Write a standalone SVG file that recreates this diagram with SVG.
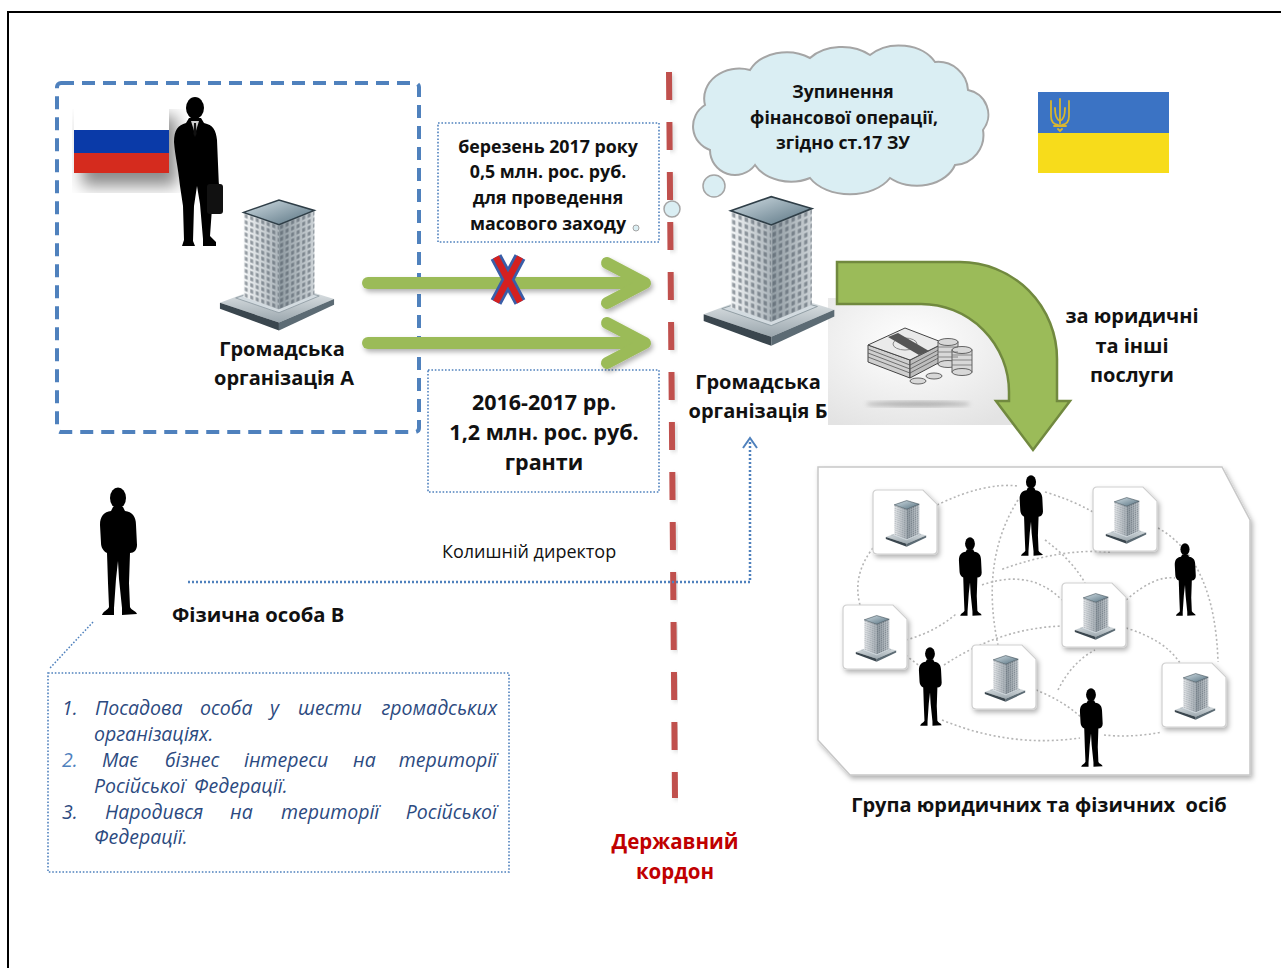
<svg xmlns="http://www.w3.org/2000/svg" xmlns:xlink="http://www.w3.org/1999/xlink" width="1281" height="968" viewBox="0 0 1281 968">
<style>
.b{font-family:"Open Sans","Noto Sans","DejaVu Sans",sans-serif;font-weight:bold;fill:#111;text-anchor:middle}
.r{font-family:"Open Sans","Noto Sans","DejaVu Sans",sans-serif;fill:#111}
.it{font-family:"Open Sans","Noto Sans","DejaVu Sans",sans-serif;font-style:italic;font-size:19.5px;fill:#2c4a80}
.dotbox{fill:#fff;stroke:#4f81bd;stroke-width:1.6;stroke-dasharray:1.6 1.8}
.garrow{stroke:#9bbb59;stroke-width:12;fill:none;stroke-linecap:round;stroke-linejoin:round}
.net{fill:none;stroke:#b5b5b5;stroke-width:1.6;stroke-dasharray:2 2.5}
.tile{fill:#fff;stroke:#cfcfcf;stroke-width:1.2}
</style>
<defs>
<filter id="sh" x="-20%" y="-20%" width="150%" height="150%"><feDropShadow dx="2" dy="3" stdDeviation="2.5" flood-color="#000" flood-opacity="0.3"/></filter>
<filter id="blur8"><feGaussianBlur stdDeviation="8"/></filter>
<filter id="blur2"><feGaussianBlur stdDeviation="2"/></filter>
<linearGradient id="gFaceL" x1="0" y1="0" x2="1" y2="0"><stop offset="0" stop-color="#f5f7f8"/><stop offset="1" stop-color="#aab3b9"/></linearGradient>
<linearGradient id="gFaceR" x1="0" y1="0" x2="1" y2="0"><stop offset="0" stop-color="#8f9aa1"/><stop offset="1" stop-color="#cdd3d7"/></linearGradient>
<linearGradient id="gRoof" x1="0" y1="0" x2="1" y2="1"><stop offset="0" stop-color="#d2dee4"/><stop offset="1" stop-color="#55707f"/></linearGradient>
<linearGradient id="gBase" x1="0" y1="0" x2="0" y2="1"><stop offset="0" stop-color="#f2f5f6"/><stop offset="1" stop-color="#9aa6ad"/></linearGradient>
<radialGradient id="gBg" cx="0.45" cy="0.35" r="0.75"><stop offset="0" stop-color="#ffffff"/><stop offset="1" stop-color="#e3e3e3"/></radialGradient>
<pattern id="win" width="5.6" height="6.2" patternUnits="userSpaceOnUse"><rect x="1.2" y="1.2" width="3" height="3.8" fill="#4b5660" opacity="0.55"/></pattern>
<symbol id="bld" viewBox="0 0 120 135" overflow="visible">
  <polygon points="2,106 60,84 118,102 62,126" fill="url(#gBase)"/>
  <polygon points="2,106 62,126 62,134 2,112" fill="#3a464e"/>
  <polygon points="62,126 118,102 118,108 62,134" fill="#5c6b74"/>
  <polygon points="18,101 60,87 103,99 62,116" fill="#d3dbe0" stroke="#8a979e" stroke-width="0.8"/>
  <g transform="translate(26,14) skewY(19.44)">
    <rect width="36" height="86" fill="url(#gFaceL)"/>
    <rect width="36" height="86" fill="url(#win)"/>
  </g>
  <g transform="translate(62,26.6) skewY(-22.38)">
    <rect width="36" height="86" fill="url(#gFaceR)"/>
    <rect width="36" height="86" fill="url(#win)"/>
  </g>
  <polygon points="26,14 62,1.5 98,12 62,26.6" fill="url(#gRoof)" stroke="#2f3e47" stroke-width="1.5"/>
</symbol>
<symbol id="man" viewBox="-20 0 40 130">
  <ellipse cx="0" cy="11" rx="8" ry="10.5" fill="#000"/>
  <path fill="#000" d="M-5,20 L5,20 L7,24 C14,25 18,29 18,38 L19,58 C19,63 16,66 12,66 L11,96 L12,120 C13,123 18,124 19,127 L4,128 L4,121 L1,92 L0,74 L-2,92 L-4,121 L-4,128 L-16,128 C-15,124 -10,123 -9,120 L-10,96 L-11,66 C-15,64 -17,60 -17,56 L-18,38 C-18,29 -14,25 -7,24 Z"/>
</symbol>
<symbol id="tileS" viewBox="0 0 64 64" overflow="visible">
  <path class="tile" d="M4,0 H50 L64,14 V60 Q64,64 60,64 H4 Q0,64 0,60 V4 Q0,0 4,0 Z" filter="url(#sh)"/>
  <use href="#bld" x="12" y="10" width="42" height="47"/>
</symbol>
</defs>

<rect x="0" y="0" width="1281" height="968" fill="#fff"/>
<rect x="8" y="12" width="1290" height="980" fill="none" stroke="#000" stroke-width="2"/>

<!-- Russia side -->
<g id="org-a">
  <rect x="57" y="83" width="362" height="349" rx="4" fill="none" stroke="#4f81bd" stroke-width="4" stroke-dasharray="13 8"/>
  <rect x="82" y="116" width="95" height="70" fill="#000" opacity="0.45" filter="url(#blur8)"/>
  <rect x="74" y="103" width="95" height="27" fill="#fff"/>
  <rect x="74" y="130" width="95" height="23" fill="#0a3aa8"/>
  <rect x="74" y="153" width="95" height="20" fill="#d52b1e"/>
  <g id="businessman" transform="translate(168,96)">
    <ellipse cx="27" cy="12" rx="9" ry="11" fill="#000"/>
    <path fill="#000" d="M21,22 L33,22 L36,27 C45,29 48,34 49,44 L51,92 C52,100 50,108 48,112 L46,100 L44,112 L42,140 L48,146 L48,150 L35,150 L35,143 L32,108 L29,90 L26,110 L25,145 L27,150 L14,150 L16,144 L15,110 L12,90 C10,70 7,60 6,46 C6,34 10,29 18,27 Z"/>
    <polygon points="23,25 31,25 27,38" fill="#cfcfcf"/>
    <polygon points="26,27 28,27 28.5,38 27,41 25.5,38" fill="#111"/>
    <path d="M42,88 Q46,82 50,88" fill="none" stroke="#000" stroke-width="2"/>
    <rect x="39" y="88" width="16" height="30" rx="3" fill="#111"/>
  </g>
  <use href="#bld" x="218" y="198" width="118" height="134"/>
  <text class="b" x="282" y="356" font-size="20">Громадська</text>
  <text class="b" x="284" y="385" font-size="20">організація А</text>
</g>

<!-- transfer boxes -->
<g id="box-2017">
  <rect class="dotbox" x="438" y="123" width="221" height="119"/>
  <text class="b" x="548" y="153" font-size="17.8">березень 2017 року</text>
  <text class="b" x="548" y="178" font-size="17.8">0,5 млн. рос. руб.</text>
  <text class="b" x="548" y="204" font-size="17.8">для проведення</text>
  <text class="b" x="548" y="230" font-size="17.8">масового заходу</text>
  <circle cx="636" cy="228" r="3" fill="#daeef3" stroke="#a5a5a5" stroke-width="1"/>
</g>
<g id="box-grants">
  <rect class="dotbox" x="428" y="370" width="231" height="122"/>
  <text class="b" x="544" y="410" font-size="21.5">2016-2017 рр.</text>
  <text class="b" x="544" y="440" font-size="21.5">1,2 млн. рос. руб.</text>
  <text class="b" x="544" y="470" font-size="21.5">гранти</text>
</g>

<!-- border line -->
<g id="border">
  <line x1="671" y1="74" x2="677" y2="800" stroke="#999" stroke-width="6" stroke-dasharray="28 22" opacity="0.35" filter="url(#blur2)"/>
  <line x1="669" y1="72" x2="675" y2="798" stroke="#c0504d" stroke-width="6" stroke-dasharray="28 22"/>
  <text x="675" y="849" font-size="20.5" class="b" style="fill:#c00000">Державний</text>
  <text x="675" y="879" font-size="20.5" class="b" style="fill:#c00000">кордон</text>
</g>

<!-- cloud -->
<g id="cloud">
  <path d="M710,150 A25,25 0 0 1 705,105 A35,30 0 0 1 750,70 A40,30 0 0 1 810,58 A40,28 0 0 1 870,55 A40,30 0 0 1 935,62 A30,30 0 0 1 968,90 A25,25 0 0 1 983,130 A30,30 0 0 1 955,165 A40,30 0 0 1 890,178 A45,30 0 0 1 810,178 A40,30 0 0 1 755,165 A25,25 0 0 1 710,150 Z" fill="#daeef3" stroke="#a5a5a5" stroke-width="2"/>
  <circle cx="714" cy="186" r="11" fill="#daeef3" stroke="#a5a5a5" stroke-width="1.5"/>
  <circle cx="672" cy="209" r="8" fill="#daeef3" stroke="#a5a5a5" stroke-width="1.5"/>
  <text class="b" x="843" y="98" font-size="17.6">Зупинення</text>
  <text class="b" x="844" y="124" font-size="17.6">фінансової операції,</text>
  <text class="b" x="843" y="149" font-size="17.6">згідно ст.17 ЗУ</text>
</g>

<!-- Ukraine flag -->
<g id="flag-ua">
  <rect x="1038" y="92" width="131" height="41" fill="#3b73c4"/>
  <rect x="1038" y="133" width="131" height="40" fill="#f7dc1b"/>
  <g fill="none" stroke="#d9b62e" stroke-width="1.8" stroke-linecap="round">
    <path d="M1060,99 V124"/>
    <path d="M1051,101 V116 Q1051,124 1058,125"/>
    <path d="M1069,101 V116 Q1069,124 1062,125"/>
    <path d="M1055,108 Q1055,119 1060,121 Q1065,119 1065,108"/>
    <path d="M1054,126 H1066"/>
    <path d="M1058,129 L1060,131 L1062,129"/>
  </g>
</g>

<!-- org B -->
<g id="org-b">
  <rect x="828" y="298" width="185" height="127" fill="url(#gBg)"/>
  <use href="#bld" x="700" y="195" width="138" height="152"/>
  <text class="b" x="758" y="389" font-size="20">Громадська</text>
  <text class="b" x="758" y="418" font-size="20">організація Б</text>
  <g id="money">
    <ellipse cx="918" cy="404" rx="52" ry="3" fill="#777" opacity="0.5" filter="url(#blur2)"/>
    <polygon points="868,362 910,378 910,360 868,345" fill="#cfcfcf" stroke="#444" stroke-width="1"/>
    <polygon points="910,378 944,360 944,343 910,360" fill="#bdbdbd" stroke="#444" stroke-width="1"/>
    <g stroke="#555" stroke-width="0.8">
      <line x1="868" y1="349" x2="910" y2="365"/><line x1="868" y1="353" x2="910" y2="369"/><line x1="868" y1="357" x2="910" y2="373"/>
      <line x1="910" y1="365" x2="944" y2="347"/><line x1="910" y1="369" x2="944" y2="351"/><line x1="910" y1="373" x2="944" y2="355"/>
    </g>
    <polygon points="868,345 905,328 944,343 910,360" fill="#eaeaea" stroke="#444" stroke-width="1"/>
    <ellipse cx="905" cy="344" rx="12" ry="6" fill="none" stroke="#888"/>
    <polygon points="888,337 898,333 929,351 919,355" fill="#555"/>
    <g fill="#d8d8d8" stroke="#555" stroke-width="0.9">
      <rect x="938" y="342" width="20" height="22"/><ellipse cx="948" cy="364" rx="10" ry="3.5"/><ellipse cx="948" cy="342" rx="10" ry="3.5"/>
      <rect x="952" y="350" width="20" height="22"/><ellipse cx="962" cy="372" rx="10" ry="3.5"/><ellipse cx="962" cy="350" rx="10" ry="3.5"/>
      <ellipse cx="918" cy="381" rx="8" ry="3"/><ellipse cx="934" cy="376" rx="8" ry="3"/>
    </g>
    <g stroke="#666" stroke-width="0.7">
      <line x1="938" y1="347" x2="958" y2="347"/><line x1="938" y1="352" x2="958" y2="352"/><line x1="938" y1="357" x2="958" y2="357"/>
      <line x1="952" y1="355" x2="972" y2="355"/><line x1="952" y1="360" x2="972" y2="360"/><line x1="952" y1="365" x2="972" y2="365"/>
    </g>
  </g>
  <text class="b" x="1132" y="323" font-size="20">за юридичні</text>
  <text class="b" x="1132" y="353" font-size="20">та інші</text>
  <text class="b" x="1132" y="382" font-size="20">послуги</text>
</g>

<!-- person B -->
<g id="person-b">
  <use href="#man" x="98" y="487" width="40" height="130"/>
  <text class="b" x="172" y="622" font-size="20.2" style="text-anchor:start">Фізична особа В</text>
</g>
<g id="note-b">
  <rect class="dotbox" x="48" y="673" width="461" height="199"/>
  <text class="it" y="715"><tspan x="62">1.</tspan><tspan x="95">Посадова</tspan><tspan x="200">особа</tspan><tspan x="270">у</tspan><tspan x="298">шести</tspan></text>
  <text class="it" x="497" y="715" style="text-anchor:end">громадських</text>
  <text class="it" x="94" y="741">організаціях.</text>
  <text class="it" y="767"><tspan x="62" fill="#4f81bd">2.</tspan><tspan x="102">Має</tspan><tspan x="165">бізнес</tspan><tspan x="244">інтереси</tspan><tspan x="353">на</tspan></text>
  <text class="it" x="497" y="767" style="text-anchor:end">території</text>
  <text class="it" y="793"><tspan x="94">Російської</tspan><tspan x="194">Федерації.</tspan></text>
  <text class="it" y="819"><tspan x="62">3.</tspan><tspan x="105">Народився</tspan><tspan x="230">на</tspan><tspan x="281">території</tspan></text>
  <text class="it" x="497" y="819" style="text-anchor:end">Російської</text>
  <text class="it" x="94" y="844">Федерації.</text>
</g>

<!-- group -->
<g id="group">
  <polygon points="818,467 1222,467 1250,520 1250,775 850,775 818,740" fill="#fff" stroke="#c8c8c8" stroke-width="1.5" filter="url(#sh)"/>
  <g class="net">
    <path d="M937,505 Q985,482 1018,486"/>
    <path d="M1045,492 Q1072,500 1093,512"/>
    <path d="M1158,528 Q1215,560 1218,662"/>
    <path d="M873,548 Q852,575 860,605"/>
    <path d="M906,640 Q935,632 956,614"/>
    <path d="M982,585 Q1030,568 1062,600"/>
    <path d="M1018,500 Q980,560 998,645"/>
    <path d="M1126,628 Q1165,640 1180,663"/>
    <path d="M1036,690 Q1062,700 1082,718"/>
    <path d="M1104,735 Q1132,738 1162,732"/>
    <path d="M942,720 Q1010,748 1080,738"/>
    <path d="M944,665 Q1000,628 1062,626"/>
    <path d="M1045,540 Q1072,560 1085,583"/>
    <path d="M1126,600 Q1155,575 1175,578"/>
    <path d="M1058,690 Q1072,662 1095,650"/>
    <path d="M906,655 Q916,664 926,670"/>
    <path d="M1110,552 Q1060,548 1000,570"/>
  </g>
  <use href="#tileS" x="873" y="490" width="64" height="64"/>
  <use href="#tileS" x="1093" y="487" width="64" height="64"/>
  <use href="#tileS" x="843" y="605" width="64" height="64"/>
  <use href="#tileS" x="1062" y="583" width="64" height="64"/>
  <use href="#tileS" x="972" y="645" width="64" height="64"/>
  <use href="#tileS" x="1162" y="663" width="64" height="64"/>
  <use href="#man" x="1018" y="475" width="26" height="82"/>
  <use href="#man" x="957" y="537" width="26" height="80"/>
  <use href="#man" x="1173" y="543" width="24" height="74"/>
  <use href="#man" x="917" y="647" width="26" height="80"/>
  <use href="#man" x="1078" y="688" width="26" height="80"/>
  <text class="b" x="1039" y="812" font-size="20" style="white-space:pre">Група юридичних та фізичних  осіб</text>
</g>

<!-- connectors -->
<g id="connectors">
  <g filter="url(#sh)">
    <line class="garrow" x1="368" y1="283" x2="642" y2="283" stroke-linecap="butt"/>
    <polyline class="garrow" points="607,263 645,283 607,303"/>
    <line class="garrow" x1="368" y1="343" x2="642" y2="343" stroke-linecap="butt"/>
    <polyline class="garrow" points="607,323 645,343 607,363"/>
  </g>
  <g id="cross" stroke-linecap="butt">
    <path d="M496,257 L520,302 M520,257 L496,302" stroke="#3a5ea8" stroke-width="12" fill="none"/>
    <path d="M496,257 L520,302 M520,257 L496,302" stroke="#d42020" stroke-width="6.5" fill="none"/>
  </g>
  <path d="M837,262 H960 A97,97 0 0 1 1057,359 V401 H1070 L1033,450 L996,401 H1009 V392 A88,88 0 0 0 921,304 H837 Z" fill="#9bbb59" stroke="#71893f" stroke-width="2.5" stroke-linejoin="miter"/>
  <path d="M188,582 H750 V440" fill="none" stroke="#4f81bd" stroke-width="2.5" stroke-dasharray="2 2"/>
  <polyline points="743,448 750,438 757,448" fill="none" stroke="#4f81bd" stroke-width="2"/>
  <text class="r" x="442" y="558" font-size="18">Колишній директор</text>
  <line x1="93" y1="622" x2="50" y2="668" stroke="#4f81bd" stroke-width="1.5" stroke-dasharray="1.6 1.8"/>
</g>
</svg>
